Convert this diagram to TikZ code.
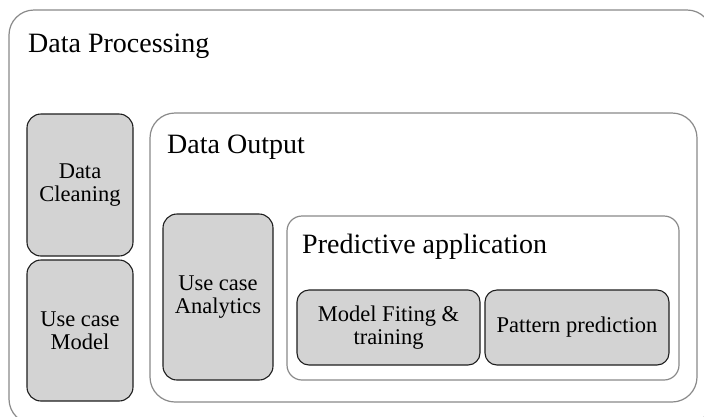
\documentclass[tikz,border=0pt]{standalone}
\usepackage{fontspec}
\setmainfont{Liberation Serif}
\definecolor{boxfill}{HTML}{D3D3D3}
\definecolor{frameline}{HTML}{8A8A8A}
\definecolor{boxline}{HTML}{1E1E1E}
\begin{document}
\begin{tikzpicture}[x=1pt,y=-1pt,
  frame/.style={draw=frameline, line width=1.2pt, rounded corners=#1, inner sep=0pt, fill=white},
  frame/.default=25pt,
  gbox/.style={draw=boxline, line width=1.1pt, fill=boxfill, rounded corners=#1, inner sep=0pt, align=center,
    font=\fontsize{22.5}{23}\selectfont},
  gbox/.default=14pt,
  title/.style={anchor=base west, inner sep=0pt, font=\fontsize{28}{32}\selectfont}]
\useasboundingbox (0,0) rectangle (704,416);
\clip (0,0) rectangle (704,416);
\fill[white] (0,0) rectangle (704,416);
% outer container
\node[frame, minimum width=703pt, minimum height=414pt] (proc) at (360.5,217) {};
\node[title] (proctitle) at (28,52) {Data Processing};
\node[gbox, minimum width=106pt, minimum height=142pt] (clean) at (80,185) {Data\\Cleaning};
\node[gbox, minimum width=106pt, minimum height=141pt] (model) at (80,330.5) {Use case\\Model};
% data output
\node[frame, minimum width=547pt, minimum height=289pt] (out) at (423.5,257.5) {};
\node[title] (outtitle) at (167,153) {Data Output};
\node[gbox, minimum width=110pt, minimum height=166pt] (analytics) at (218,297) {Use case\\Analytics};
% predictive
\node[frame=15pt, minimum width=392pt, minimum height=164pt] (pred) at (483,298) {};
\node[title] (predtitle) at (302,253) {Predictive application};
\node[gbox=12pt, minimum width=183pt, minimum height=75pt] (fit) at (388.5,327.5) {Model Fiting \&\\training};
\node[gbox=12pt, minimum width=184pt, minimum height=75pt] (pattern) at (577,327.5) {Pattern prediction};
\end{tikzpicture}
\end{document}
